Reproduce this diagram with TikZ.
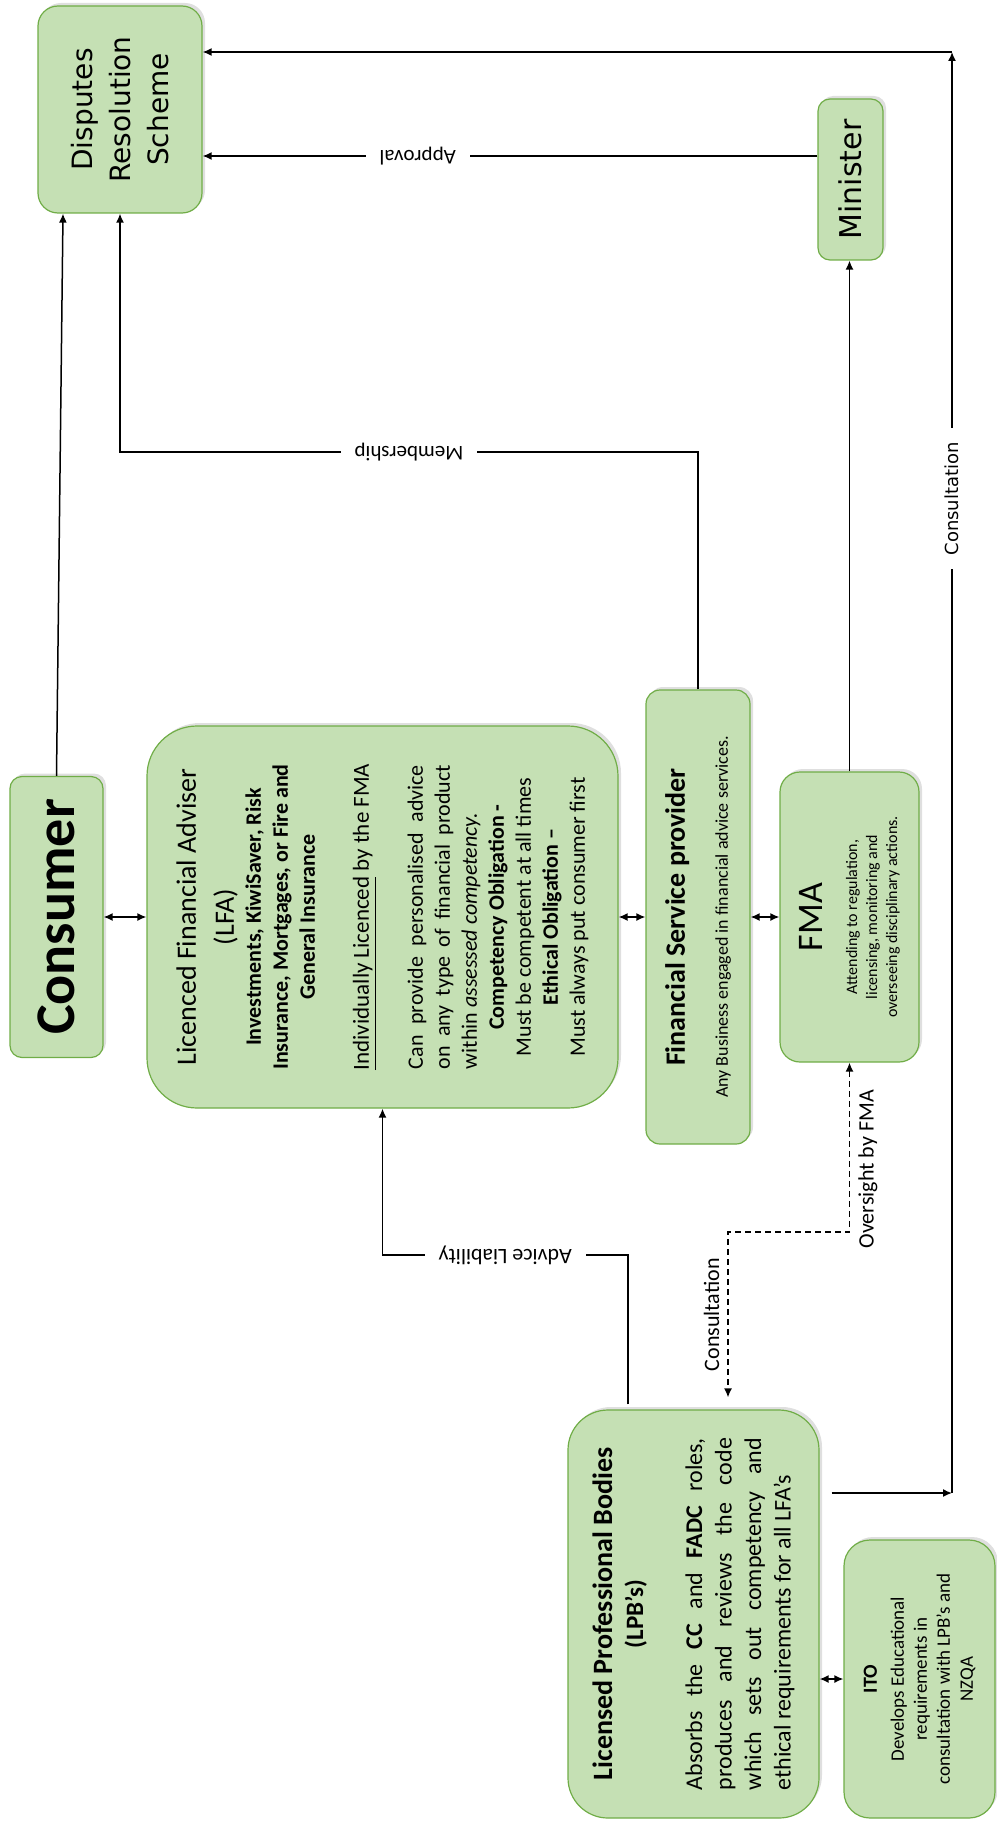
\documentclass[tikz,border=0pt]{standalone}
\usepackage{graphicx}
\usepackage{fontspec}
\setmainfont{Carlito}
\newfontfamily\verd{DejaVu Sans}
\usetikzlibrary{arrows.meta,shadows}
\definecolor{BoxFill}{RGB}{197,224,180}
\definecolor{BoxLine}{RGB}{112,173,71}
\newcommand{\turned}[1]{\rotatebox{90}{#1}}
\newcommand{\fs}[2]{\fontsize{#1}{#2}\selectfont}

\begin{document}
\begin{tikzpicture}[x=0.5pt, y=-0.5pt,
    box/.style={rectangle, rounded corners=8pt, draw=BoxLine, line width=0.6pt, fill=BoxFill,
        drop shadow={shadow xshift=1.5pt, shadow yshift=1.5pt, opacity=0.25}, inner sep=0pt},
    arr/.style={-{Latex[length=4.5pt,width=4pt]}, line width=0.75pt},
    both/.style={{Latex[length=4.5pt,width=4pt]}-{Latex[length=4.5pt,width=4pt]}, line width=0.75pt},
    lab/.style={fill=white, inner xsep=7pt, inner ysep=1pt, font=\fs{10.5}{12}}
]
\useasboundingbox (0,0) rectangle (996,1830);

\node[box, rounded corners=10pt, minimum width=82pt, minimum height=103.5pt] (drs) at (120,109.5)
    {\turned{\parbox{90pt}{\centering\verd\fs{14}{19}Disputes\\Resolution\\Scheme}}};
\node[box, rounded corners=6pt, minimum width=32.5pt, minimum height=80.5pt] (minister) at (850.5,179.5)
    {\turned{\verd\fs{15}{18}Minister}};
\node[box, rounded corners=6pt, minimum width=46.5pt, minimum height=140.5pt] (consumer) at (56.5,917)
    {\turned{\fs{28}{30}\bfseries Consumer}};
\node[box, rounded corners=25pt, minimum width=235.5pt, minimum height=191pt] (lfa) at (382.5,917)
    {\turned{\parbox{175pt}{\centering
        {\fs{14}{19}Licenced Financial Adviser\\(LFA)\par}
        {\fs{11}{13.5}\bfseries Investments, KiwiSaver, Risk\\Insurance, Mortgages, or Fire and\\General Insurance\par}
        \vspace{13.5pt}
        {\fs{11.5}{13.5}\underline{Individually Licenced} by the FMA\par}
        \vspace{13.5pt}
        {\fs{11}{13.5}\makebox[152pt][s]{Can provide personalised advice}\\
        \makebox[152pt][s]{on any type of financial product}\\
        \makebox[152pt][l]{within \textit{assessed competency.}}\\
        \textbf{Competency Obligation -}\\
        Must be competent at all times\\
        \textbf{Ethical Obligation –}\\
        Must always put consumer first\par}}}};
\node[box, rounded corners=7pt, minimum width=52pt, minimum height=227pt] (fsp) at (698,917)
    {\turned{\parbox{220pt}{\centering
        {\fs{14}{17}\bfseries Financial Service provider\par}
        {\fs{9}{21.5}Any Business engaged in financial advice services.\par}}}};
\node[box, rounded corners=10pt, minimum width=69.5pt, minimum height=145pt] (fma) at (849.5,917)
    {\turned{\parbox{135pt}{\centering
        {\fs{18}{20}FMA\par}
        \vspace{7.5pt}
        {\fs{8}{10}Attending to regulation,\\licensing, monitoring and\\overseeing disciplinary actions.\par}}}};
\node[box, rounded corners=20pt, minimum width=125.5pt, minimum height=204pt] (lpb) at (693.5,1614)
    {\turned{\parbox{190pt}{\centering
        {\fs{14}{16}\bfseries Licensed Professional Bodies\par}
        {\fs{12.5}{15.5}\bfseries (LPB’s)\par}
        \vspace{14.75pt}
        {\fs{12}{14.75}\makebox[176pt][s]{Absorbs the \textbf{CC} and \textbf{FADC} roles,}\\
        \makebox[176pt][s]{produces and reviews the code}\\
        \makebox[176pt][s]{which sets out competency and}\\
        \makebox[176pt][l]{ethical requirements for all LFA’s}\par}}}};
\node[box, rounded corners=13pt, minimum width=75.5pt, minimum height=139pt] (ito) at (919.5,1679)
    {\turned{\parbox{130pt}{\centering
        {\fs{10}{12}\bfseries ITO\par}
        \vspace{2pt}
        {\fs{9.5}{11.5}Develops Educational\\requirements in\\consultation with LPB’s and\\NZQA\par}}}};

\draw[both] (consumer.east) -- (lfa.west);
\draw[both] (lfa.east) -- (fsp.west);
\draw[both] (fsp.east) -- (fma.west);
\draw[both] (lpb.east |- ito.west) -- (ito.west);

\draw[arr] (consumer.north) -- ([xshift=-28.5pt]drs.south);
\coordinate (mem) at (0,452);
\draw[arr] (fsp.north) |- node[lab, pos=0.75, rotate=180]{Membership} (mem -| drs.south) -- (drs.south);
\coordinate (ap) at ([yshift=11.75pt]minister.west);
\draw[arr] (ap) -- node[lab, pos=0.65, rotate=180]{Approval} (ap -| drs.east);
\draw[arr] (fma.north) -- (fma.north |- minister.south);

\coordinate (cr) at (952,1493);
\coordinate (ct) at (952,52);
\draw[arr, shorten <=6pt] (lpb.east |- cr) -- (cr);
\draw[arr] (cr) -- node[lab, pos=0.69, rotate=90, font=\verd\fs{9}{11}]{Consultation} (ct);
\draw[arr] (ct) -- (ct -| drs.east);

\coordinate (al) at (0,1255);
\draw[arr, shorten <=2.5pt] ([xshift=-32.75pt]lpb.north) |- node[lab, pos=0.75, rotate=180, font=\fs{11}{13}]{Advice Liability} (al -| lfa.south) -- (lfa.south);

\coordinate (ov) at (0,1232);
\draw[both, dash pattern=on 3pt off 2pt] (fma.south) -- node[pos=0.63, anchor=north, rotate=90, inner sep=4pt, font=\fs{11}{13}]{Oversight by FMA} (fma.south |- ov)
    -| node[pos=0.75, anchor=south, rotate=90, inner sep=4pt, font=\fs{11}{13}]{Consultation} ([xshift=17.25pt, yshift=6pt]lpb.north);
\end{tikzpicture}
\end{document}
